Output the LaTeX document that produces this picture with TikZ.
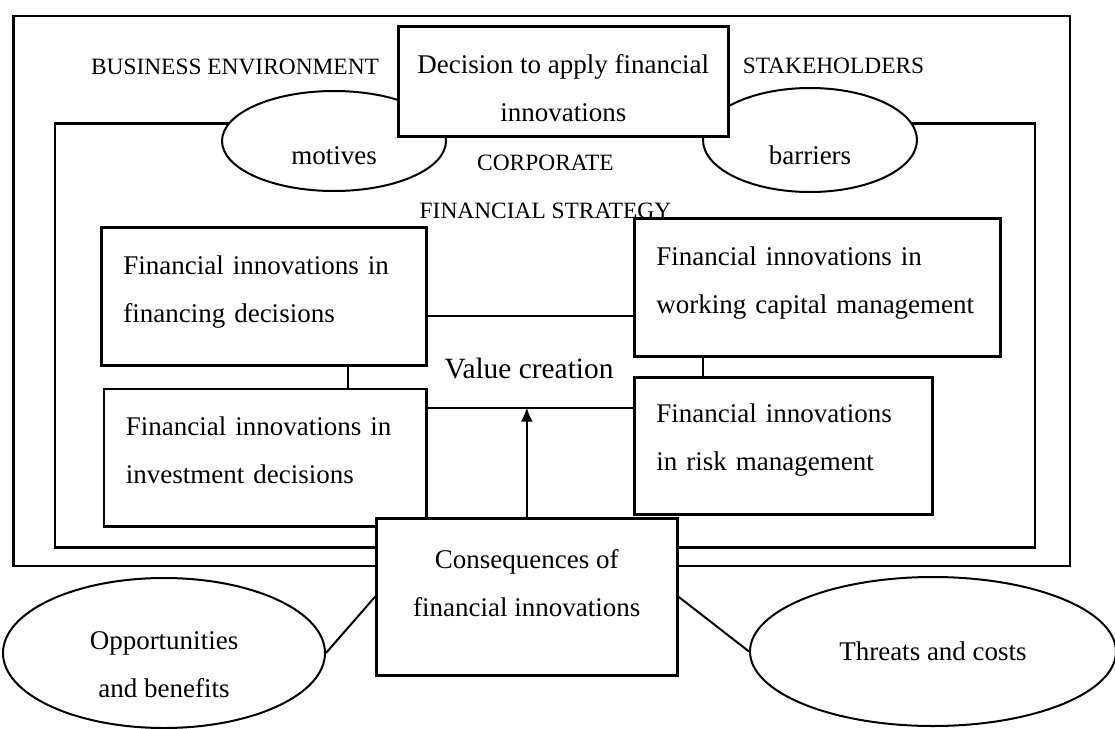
\documentclass[tikz,border=0pt]{standalone}
\usepackage{fontspec}
\setmainfont{Liberation Serif}
\usetikzlibrary{shapes.geometric,arrows.meta}

\tikzset{
	every node/.style={font=\fontsize{13.5pt}{24pt}\selectfont},
	lift/.style={execute at end node={\rule[-#1]{0pt}{0pt}}},
	drop/.style={execute at begin node={\rule{0pt}{#1}}},
	frame/.style={line width=1.2pt},
	fibox/.style={draw, line width=1.3pt, fill=white, anchor=north west, align=left, inner xsep=11pt, lift=7.5pt},
	oval/.style={draw, ellipse, line width=1pt, fill=white, inner sep=0pt, align=center},
	caps/.style={font=\fontsize{11.7pt}{24pt}\selectfont, align=center},
	link/.style={line width=1pt}
}

\begin{document}
\begin{tikzpicture}[x=0.5pt, y=-0.5pt]
\useasboundingbox (0,0) rectangle (1115,729);
% environment and strategy frames
\draw[frame] (13.5,16) rectangle (1070,566);
\draw[frame] (55,123.5) rectangle (1035,547.5);

\node[caps, anchor=base] (env) at (235,74) {BUSINESS ENVIRONMENT};
\node[caps, anchor=base] (stake) at (833.5,73) {STAKEHOLDERS};
\node[caps, anchor=base] (strat) at (545.5,218) {CORPORATE\\FINANCIAL STRATEGY};

\node[oval, minimum width=112pt, minimum height=50pt, drop=24pt] (motives) at (334,141) {motives};
\node[oval, minimum width=107pt, minimum height=52pt, drop=25pt] (barriers) at (810,140) {barriers};
\node[draw, line width=1.3pt, fill=white, anchor=north west, align=center, minimum width=165pt, minimum height=55pt] (decision) at (397,25) {\rule{0pt}{16.5pt}Decision to apply financial\\innovations};

\node[fibox, minimum width=162.5pt, minimum height=69pt, text width=140.5pt] (fin) at (100,226) {Financial innovations in\\financing decisions};
\node[fibox, minimum width=161.25pt, minimum height=68.75pt, text width=139.25pt] (inv) at (102.5,387.5) {Financial innovations in\\investment decisions};
\node[fibox, minimum width=183pt, minimum height=69pt, text width=161pt] (wcm) at (633,217) {Financial innovations in\\working capital management};
\node[fibox, minimum width=149pt, minimum height=68.5pt, text width=127pt, lift=8.7pt] (risk) at (633,376) {Financial innovations\\in risk management};
\node[font=\fontsize{14.7pt}{24pt}\selectfont, anchor=base] (value) at (529,378) {Value creation};

\node[draw, line width=1.3pt, fill=white, anchor=north west, align=center, minimum width=150.5pt, minimum height=78.5pt, lift=14pt] (cons) at (375,517) {Consequences of\\financial innovations};
\node[oval, minimum width=161pt, minimum height=75pt] (opp) at (164,653) {\rule{0pt}{21pt}Opportunities\\and benefits};
\node[oval, minimum width=183pt, minimum height=74.5pt] (threats) at (933,651.5) {Threats and costs};

% links around value creation
\draw[link] (fin.south) ++(42pt,0) coordinate (a) -- (a |- inv.north);
\draw[link] (wcm.south west) ++(35pt,0) coordinate (b) -- (b |- risk.north);
\draw[link] ([yshift=-10pt]fin.east) coordinate (c) -- (c -| wcm.west);
\draw[link] ([yshift=25pt]inv.east) coordinate (low) -- (low -| risk.west);
\draw[link, -{Latex[length=7pt, width=6pt]}] (cons.north) -- (cons.north |- low);
\draw[link] (cons.west) -- (opp.east);
\draw[link] (cons.east) -- (threats.west);
\end{tikzpicture}
\end{document}
